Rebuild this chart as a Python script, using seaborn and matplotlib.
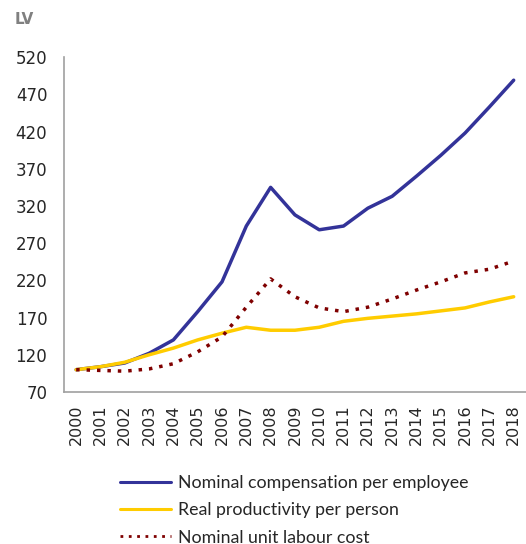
import matplotlib
matplotlib.use("Agg")
import matplotlib.pyplot as plt
import seaborn as sns
import pandas as pd
from matplotlib.lines import Line2D

years = [str(y) for y in range(2000, 2019)]
nominal_comp = [100, 104, 109, 122, 140, 178, 218, 293, 345, 308, 288, 293, 317, 333, 360, 388, 418, 453, 489]
real_prod = [100, 104, 110, 120, 129, 140, 149, 157, 153, 153, 157, 165, 169, 172, 175, 179, 183, 191, 198]
unit_labour = [100, 99, 98, 101, 108, 124, 144, 184, 222, 198, 183, 178, 184, 195, 207, 218, 230, 235, 246]
series_names = ["Nominal compensation per employee", "Real productivity per person", "Nominal unit labour cost"]
yticks = list(range(70, 521, 50))

sns.set_theme(style="white")
plt.rcParams['font.family'] = ['DejaVu Sans']

df = pd.DataFrame({"year": years * 3,
                   "value": nominal_comp + real_prod + unit_labour,
                   "series": [series_names[0]] * 19 + [series_names[1]] * 19 + [series_names[2]] * 19})

fig = plt.figure(figsize=(5.26, 5.44), dpi=100)
ax = fig.add_axes([0.1217, 0.2794, 0.878, 0.6156])

palette = {series_names[0]: "#333399", series_names[1]: "#FFCC00", series_names[2]: "#7F0000"}
styles = {series_names[0]: "", series_names[1]: "", series_names[2]: (1, 2)}
sns.lineplot(data=df, x="year", y="value", hue="series", style="series", palette=palette,
             dashes=styles, linewidth=2.5, ax=ax, legend=False, sort=False)

ax.set_xlim(-0.5, 18.5)
ax.set_ylim(70, 520)
ax.set_yticks(yticks)
ax.set_yticklabels([str(t) for t in yticks], fontsize=12)
ax.set_xticks(range(len(years)))
ax.set_xticklabels(years, rotation=90, fontsize=11.5)
ax.tick_params(axis='y', length=0, pad=12)
ax.tick_params(axis='x', length=0, pad=9)
ax.set_xlabel("")
ax.set_ylabel("")
for s in ["top", "right"]:
    ax.spines[s].set_visible(False)
for s in ["left", "bottom"]:
    ax.spines[s].set_color("#A0A0A0")
    ax.spines[s].set_linewidth(1.2)

fig.text(0.027, 0.965, "LV", fontsize=11, fontweight="bold", color="#808080", va="center", ha="left")

handles = [Line2D([0], [0], color="#333399", lw=2.2),
           Line2D([0], [0], color="#FFCC00", lw=2.2),
           Line2D([0], [0], color="#7F0000", lw=2.0, linestyle=(0, (1, 2)))]
leg = fig.legend(handles, series_names, loc="upper left", bbox_to_anchor=(0.228, 0.126),
                 frameon=False, handlelength=2.9, handletextpad=0.35,
                 labelspacing=0.62, borderpad=0, borderaxespad=0,
                 prop={"family": "Lato", "size": 12.8})

fig.savefig("out.png", dpi=100)
